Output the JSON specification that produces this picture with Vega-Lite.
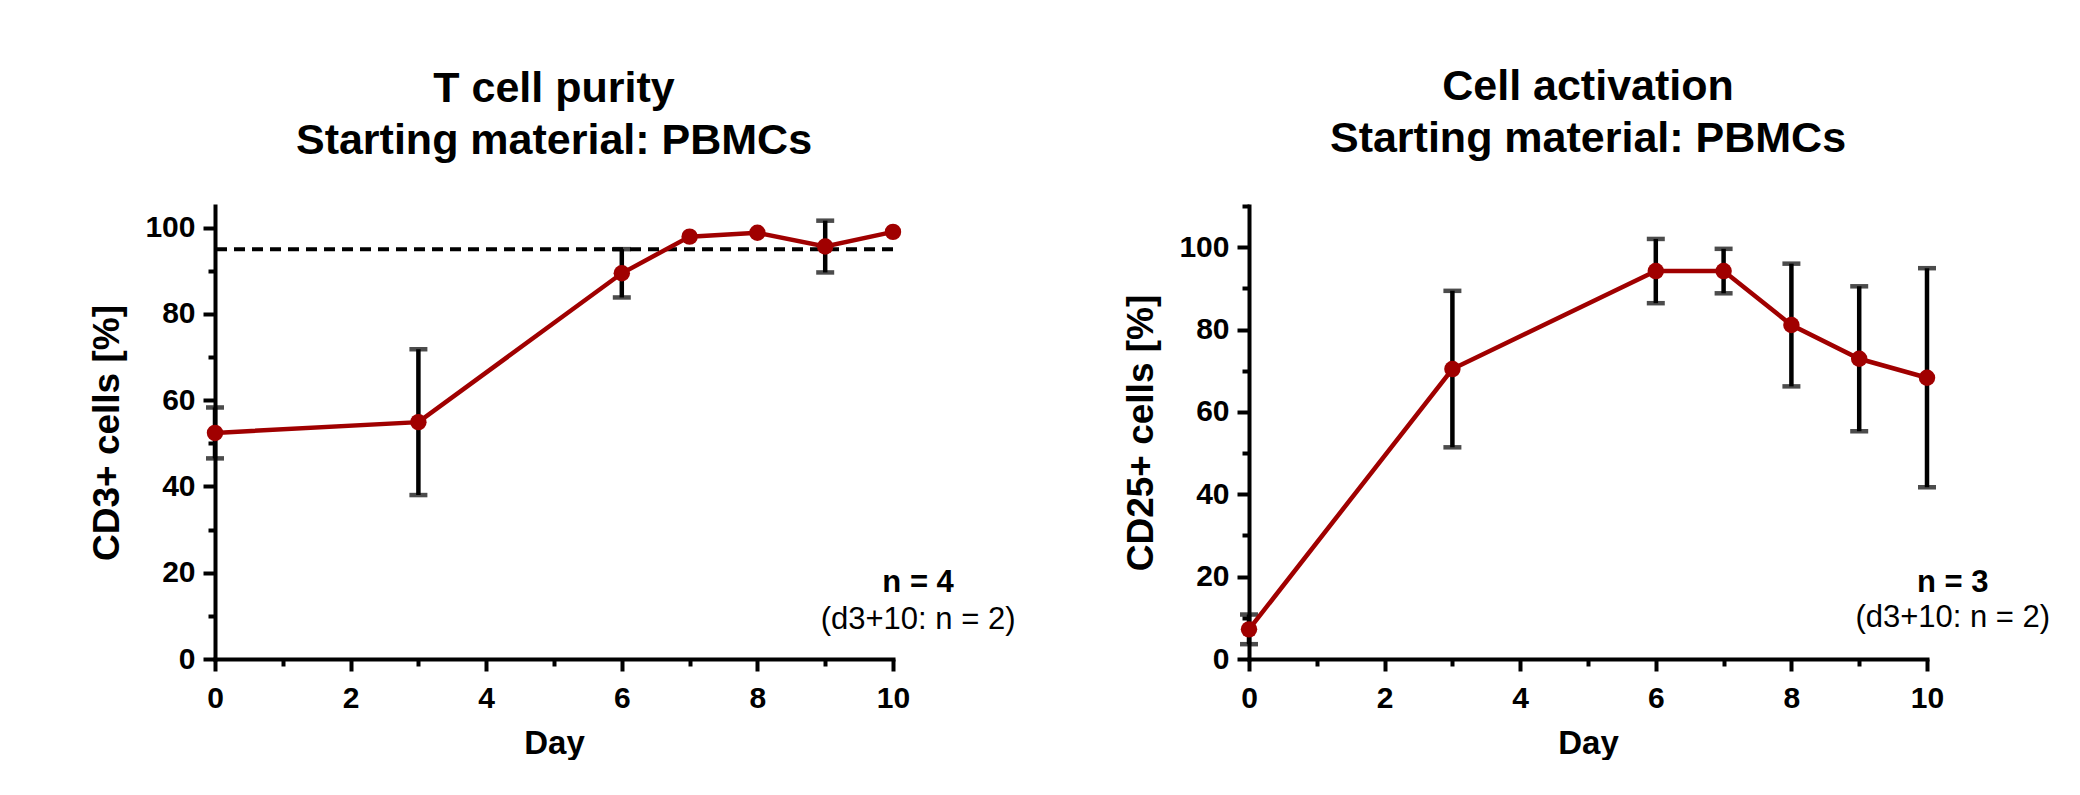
{
  "$schema": "https://vega.github.io/schema/vega-lite/v6.json",
  "background": "white",
  "padding": {"left": 88, "top": 66, "right": 0, "bottom": 0},
  "datasets": {
    "purity": [
      {"day": 0, "mean": 52.4, "sd": 5.9},
      {"day": 3, "mean": 54.9, "sd": 16.9},
      {"day": 6, "mean": 89.4, "sd": 5.6},
      {"day": 7, "mean": 97.9, "sd": 0},
      {"day": 8, "mean": 98.8, "sd": 0},
      {"day": 9, "mean": 95.6, "sd": 6.0},
      {"day": 10, "mean": 99.0, "sd": 0}
    ],
    "activation": [
      {"day": 0, "mean": 7.2, "sd": 3.6},
      {"day": 3, "mean": 70.4, "sd": 19.0},
      {"day": 6, "mean": 94.2, "sd": 7.8},
      {"day": 7, "mean": 94.2, "sd": 5.4},
      {"day": 8, "mean": 81.1, "sd": 14.9},
      {"day": 9, "mean": 72.9, "sd": 17.6},
      {"day": 10, "mean": 68.3, "sd": 26.6}
    ]
  },
  "config": {
    "font": "Liberation Sans",
    "view": {"stroke": null},
    "title": {"font": "Liberation Sans", "fontSize": 43, "fontWeight": "bold", "color": "black", "lineHeight": 52, "anchor": "middle", "offset": 43},
    "axis": {"domainColor": "black", "domainWidth": 4, "domainCap": "square", "tickColor": "black", "tickWidth": 4, "tickSize": 12, "labelFont": "Liberation Sans", "labelFontSize": 30, "labelFontWeight": "bold", "labelColor": "black", "titleFont": "Liberation Sans", "titleFontWeight": "bold", "titleColor": "black", "grid": false, "labelFlush": false, "labelOverlap": false},
    "axisX": {"labelPadding": 12, "titleFontSize": 33, "titlePadding": 14, "labelAngle": 0},
    "axisY": {"labelPadding": 8, "titleFontSize": 37, "titlePadding": 18}
  },
  "bounds": "flush",
  "spacing": 356,
  "hconcat": [
    {
      "width": 678,
      "height": 453,
      "title": {"text": ["T cell purity", "Starting material: PBMCs"]},
      "data": {"name": "purity"},
      "resolve": {"axis": {"x": "independent", "y": "independent"}},
      "layer": [
        {
          "data": {"values": [{"threshold": 95}]},
          "mark": {"type": "rule", "strokeDash": [11, 7], "strokeWidth": 4, "color": "black"},
          "encoding": {
            "y": {"field": "threshold", "type": "quantitative", "scale": {"domain": [0, 105], "nice": false}, "axis": null}
          }
        },
        {
          "transform": [{"filter": "datum.sd > 0"}],
          "mark": {"type": "errorbar", "ticks": {"size": 18, "thickness": 4.5, "color": "black"}, "rule": {"strokeWidth": 4.5, "color": "black"}},
          "encoding": {
            "x": {"field": "day", "type": "quantitative", "scale": {"domain": [0, 10], "nice": false}, "axis": null},
            "y": {"field": "mean", "type": "quantitative", "scale": {"domain": [0, 105], "nice": false}, "axis": null},
            "yError": {"field": "sd"}
          }
        },
        {
          "mark": {"type": "line", "color": "#a00000", "strokeWidth": 4.5},
          "encoding": {
            "x": {"field": "day", "type": "quantitative", "scale": {"domain": [0, 10], "nice": false}, "axis": {"orient": "bottom", "values": [0, 2, 4, 6, 8, 10], "title": "Day"}},
            "y": {"field": "mean", "type": "quantitative", "scale": {"domain": [0, 105], "nice": false}, "axis": {"orient": "left", "values": [0, 20, 40, 60, 80, 100], "title": "CD3+ cells [%]"}}
          }
        },
        {
          "mark": {"type": "circle", "color": "#a00000", "opacity": 1, "size": 270},
          "encoding": {
            "x": {"field": "day", "type": "quantitative", "scale": {"domain": [0, 10], "nice": false}, "axis": {"orient": "bottom", "values": [1, 3, 5, 7, 9], "tickSize": 7, "labels": false, "domain": false, "title": null}},
            "y": {"field": "mean", "type": "quantitative", "scale": {"domain": [0, 105], "nice": false}, "axis": {"orient": "left", "values": [10, 30, 50, 70, 90], "tickSize": 7, "labels": false, "domain": false, "title": null}}
          }
        },
        {
          "data": {"values": [{"note": "n = 4"}]},
          "mark": {"type": "text", "fontSize": 31, "fontWeight": "bold", "align": "center", "baseline": "alphabetic", "color": "black"},
          "encoding": {
            "text": {"field": "note"},
            "x": {"datum": 10.37, "type": "quantitative", "axis": null},
            "y": {"datum": 15.6, "type": "quantitative", "axis": null}
          }
        },
        {
          "data": {"values": [{"note": "(d3+10: n = 2)"}]},
          "mark": {"type": "text", "fontSize": 31, "fontWeight": "normal", "align": "center", "baseline": "alphabetic", "color": "black"},
          "encoding": {
            "text": {"field": "note"},
            "x": {"datum": 10.37, "type": "quantitative", "axis": null},
            "y": {"datum": 7.0, "type": "quantitative", "axis": null}
          }
        }
      ]
    },
    {
      "width": 678,
      "height": 453,
      "title": {"text": ["Cell activation", "Starting material: PBMCs"]},
      "data": {"name": "activation"},
      "resolve": {"axis": {"x": "independent", "y": "independent"}},
      "layer": [
        {
          "transform": [{"filter": "datum.sd > 0"}],
          "mark": {"type": "errorbar", "ticks": {"size": 18, "thickness": 4.5, "color": "black"}, "rule": {"strokeWidth": 4.5, "color": "black"}},
          "encoding": {
            "x": {"field": "day", "type": "quantitative", "scale": {"domain": [0, 10], "nice": false}, "axis": null},
            "y": {"field": "mean", "type": "quantitative", "scale": {"domain": [0, 110], "nice": false}, "axis": null},
            "yError": {"field": "sd"}
          }
        },
        {
          "mark": {"type": "line", "color": "#a00000", "strokeWidth": 4.5},
          "encoding": {
            "x": {"field": "day", "type": "quantitative", "scale": {"domain": [0, 10], "nice": false}, "axis": {"orient": "bottom", "values": [0, 2, 4, 6, 8, 10], "title": "Day"}},
            "y": {"field": "mean", "type": "quantitative", "scale": {"domain": [0, 110], "nice": false}, "axis": {"orient": "left", "values": [0, 20, 40, 60, 80, 100], "title": "CD25+ cells [%]"}}
          }
        },
        {
          "mark": {"type": "circle", "color": "#a00000", "opacity": 1, "size": 270},
          "encoding": {
            "x": {"field": "day", "type": "quantitative", "scale": {"domain": [0, 10], "nice": false}, "axis": {"orient": "bottom", "values": [1, 3, 5, 7, 9], "tickSize": 7, "labels": false, "domain": false, "title": null}},
            "y": {"field": "mean", "type": "quantitative", "scale": {"domain": [0, 110], "nice": false}, "axis": {"orient": "left", "values": [10, 30, 50, 70, 90, 110], "tickSize": 7, "labels": false, "domain": false, "title": null}}
          }
        },
        {
          "data": {"values": [{"note": "n = 3"}]},
          "mark": {"type": "text", "fontSize": 31, "fontWeight": "bold", "align": "center", "baseline": "alphabetic", "color": "black"},
          "encoding": {
            "text": {"field": "note"},
            "x": {"datum": 10.38, "type": "quantitative", "axis": null},
            "y": {"datum": 16.3, "type": "quantitative", "axis": null}
          }
        },
        {
          "data": {"values": [{"note": "(d3+10: n = 2)"}]},
          "mark": {"type": "text", "fontSize": 31, "fontWeight": "normal", "align": "center", "baseline": "alphabetic", "color": "black"},
          "encoding": {
            "text": {"field": "note"},
            "x": {"datum": 10.38, "type": "quantitative", "axis": null},
            "y": {"datum": 7.8, "type": "quantitative", "axis": null}
          }
        }
      ]
    }
  ]
}
